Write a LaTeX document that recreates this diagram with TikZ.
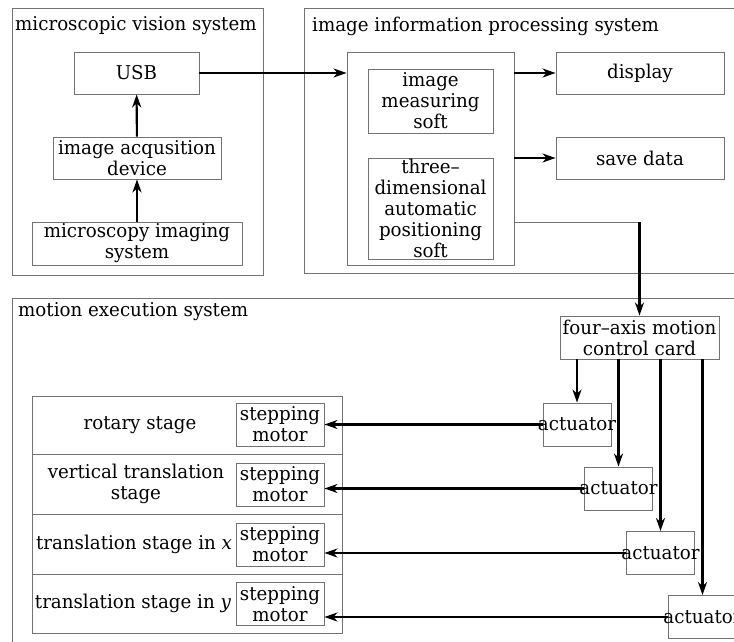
\documentclass[tikz,border=0pt]{standalone}
\usepackage{fontspec}
\setmainfont{DejaVu Serif}[FakeStretch=0.96]
\usetikzlibrary{arrows.meta}

\tikzset{
	frame/.style={draw=black!55, line width=0.9pt},
	blk/.style={draw=black!55, line width=0.9pt, align=center, inner sep=0pt},
	link/.style={line width=2.1pt, -{Stealth[length=13pt,width=9pt,inset=4pt]}},
	title/.style={anchor=west, inner sep=0pt}
}

\begin{document}
\begin{tikzpicture}[x=1pt,y=1pt,yscale=-1,font=\fontsize{19}{21}\selectfont]
	\useasboundingbox (0,0) rectangle (734,642);
	% microscopic vision system
	\draw[frame] (12,8) rectangle (263,275);
	\node[title] (tvis) at (15,26) {microscopic vision system};
	\node[blk, minimum width=125, minimum height=42] (usb) at (136.5,73) {USB};
	\node[blk, minimum width=168, minimum height=42] (acq) at (137,158) {image acqusition\\device};
	\node[blk, minimum width=210, minimum height=43] (imaging) at (137,243.5) {microscopy imaging\\system};
	\draw[link] (imaging) -- (acq);
	\draw[link] (acq) -- (usb);
	% image information processing system
	\draw[frame] (304,8) -- (740,8) (304,8) -- (304,273) -- (740,273);
	\node[title] (tproc) at (312,26) {image information processing system};
	\node[blk, minimum width=167, minimum height=213] (proc) at (430.5,158.5) {};
	\node[blk, minimum width=125, minimum height=64] (meas) at (430.5,101) {image\\measuring\\soft};
	\node[blk, minimum width=125, minimum height=101] (pos) at (430.5,208.5) {three--\\dimensional\\automatic\\positioning\\soft};
	\node[blk, minimum width=168, minimum height=42] (disp) at (640,73) {display};
	\node[blk, minimum width=168, minimum height=42] (save) at (640,158) {save data};
	\draw[link] (usb.east) -- (usb.east -| proc.west);
	\draw[link] (proc.east |- disp.west) -- (disp.west);
	\draw[link] (proc.east |- save.west) -- (save.west);
	% motion execution system
	\draw[frame] (740,298) -- (12,298) -- (12,650);
	\node[title] (tmot) at (18,312) {motion execution system};
	\node[blk, minimum width=159, minimum height=43] (card) at (639.5,337.5) {four--axis motion\\control card};
	\coordinate (bend) at (card.north |- 0,222);
	\draw[frame] (proc.east |- bend) -- (bend);
	\draw[link] (bend) -- (card.north);
	\draw[frame] (32,396) rectangle (342,633);
	\foreach \y in {454,514,574}
		\draw[frame] (32,\y) -- (342,\y);
	\node (st1) at (140,425) {rotary stage};
	\node[align=center] (st2) at (136,484) {vertical translation\\stage};
	\node (st3) at (134,544) {translation stage in \textit{x}};
	\node (st4) at (133,603.5) {translation stage in \textit{y}};
	\foreach \i/\y in {1/424.5,2/484.5,3/544.5,4/604}
		\node[blk, minimum width=88, minimum height=43] (mot\i) at (280,\y) {stepping\\motor};
	\foreach \i/\x/\y in {1/577/424.5,2/618.5/488.5,3/660.5/553,4/702.5/617}{
		\node[blk, minimum width=68, minimum height=43] (act\i) at (\x,\y) {\makebox[60pt]{actuator}};
		\draw[link] (act\i.north |- card.south) -- (act\i.north);
		\draw[link] (act\i.west) -- (act\i.west -| mot\i.east);
	}
\end{tikzpicture}
\end{document}
